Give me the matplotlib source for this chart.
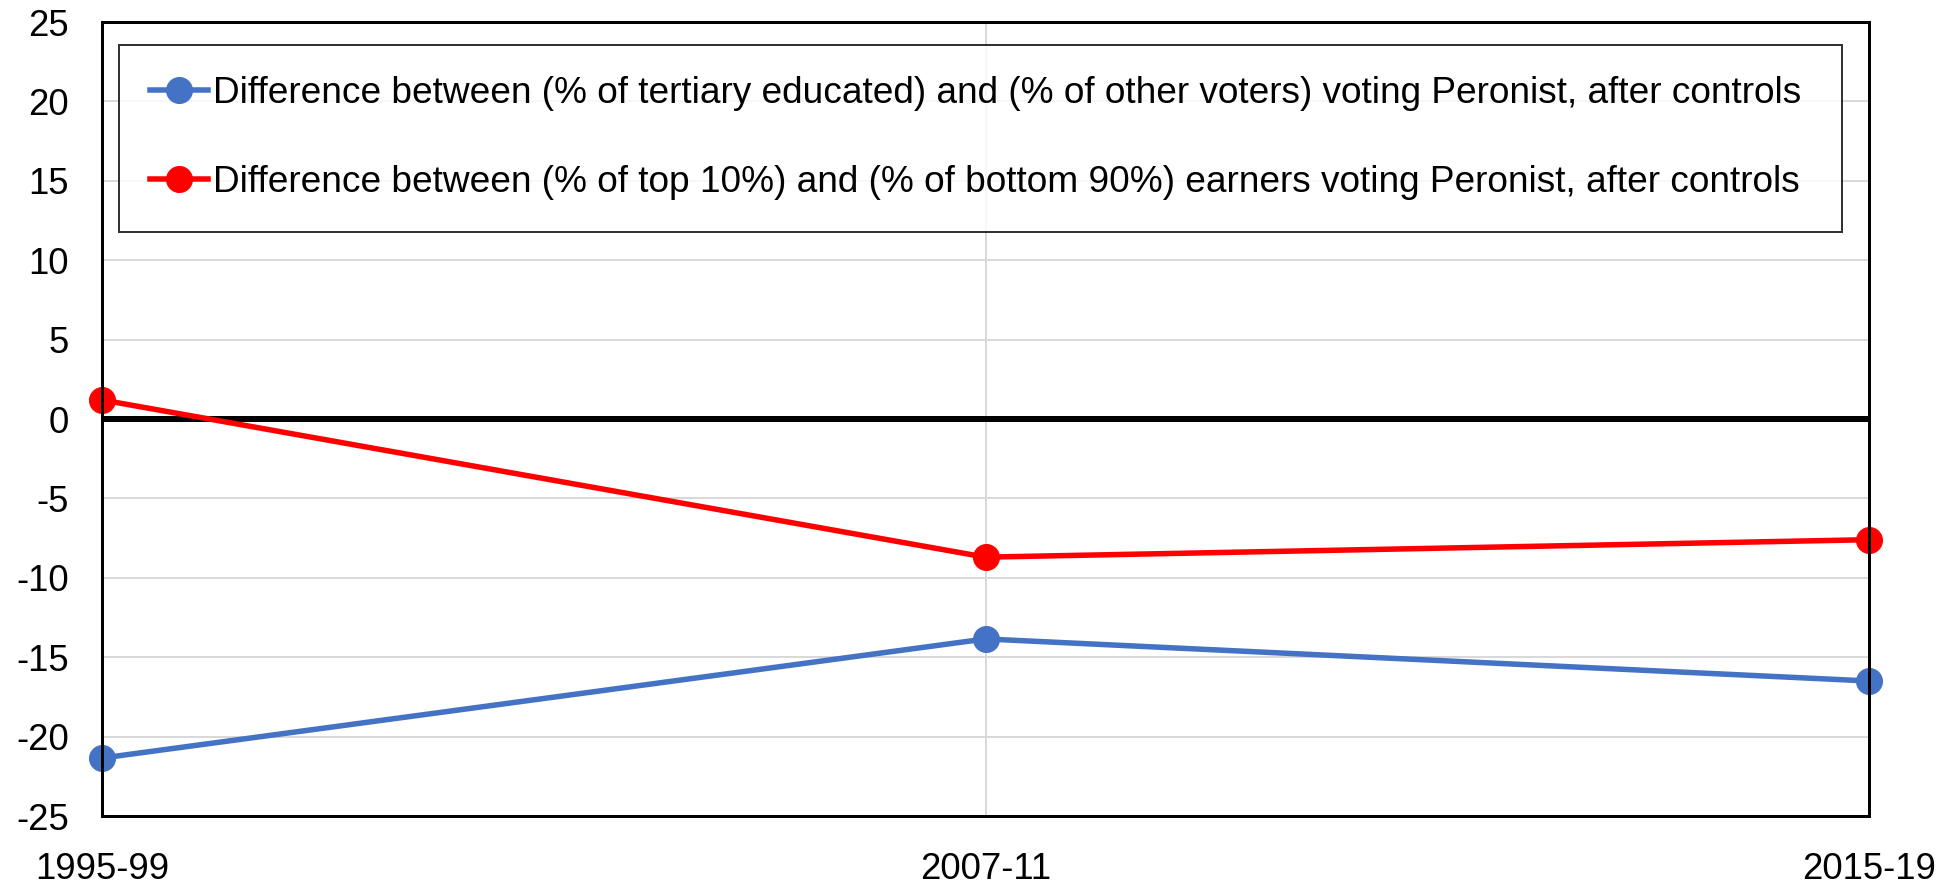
import matplotlib
matplotlib.use("Agg")
import matplotlib.pyplot as plt

periods = ["1995-99", "2007-11", "2015-19"]
tertiary = [-21.35, -13.85, -16.5]
top10 = [1.2, -8.7, -7.6]
label_tertiary = "Difference between (% of tertiary educated) and (% of other voters) voting Peronist, after controls"
label_top10 = "Difference between (% of top 10%) and (% of bottom 90%) earners voting Peronist, after controls"

plt.rcParams['font.family'] = ['Liberation Sans', 'DejaVu Sans']
plt.rcParams['axes.unicode_minus'] = False

W, H, DPI = 1959, 888, 72
fig = plt.figure(figsize=(W / DPI, H / DPI), dpi=DPI)
ax = fig.add_axes([102 / W, 1 - 816 / H, (1869 - 102) / W, (816 - 22) / H])

x = list(range(len(periods)))
ax.plot(x, tertiary, color="#4472C4", lw=5.5, marker="o", ms=26, label=label_tertiary, zorder=4, clip_on=False)
ax.plot(x, top10, color="#FF0000", lw=5.5, marker="o", ms=26, label=label_top10, zorder=4, clip_on=False)
ax.axhline(0, color="black", lw=6, zorder=3)

ax.set_xlim(0, 2)
ax.set_ylim(-25, 25)
ax.set_yticks(range(-25, 30, 5))
ax.set_xticks(x)
ax.set_xticklabels(periods)
ax.grid(True, color="#D9D9D9", lw=2, zorder=0)
ax.tick_params(axis='both', length=0, labelsize=36.5)
ax.tick_params(axis='y', pad=33)
ax.tick_params(axis='x', pad=36)
for s in ax.spines.values():
    s.set_linewidth(3)
    s.set_color("black")
    s.set_zorder(5)

leg = ax.legend(loc="upper left", bbox_to_anchor=(119 / W, 1 - 229 / H, (1842 - 119) / W, (229 - 45) / H),
                bbox_transform=fig.transFigure, mode="expand", fontsize=37, frameon=True, fancybox=False,
                edgecolor="black", handlelength=1.55, handletextpad=0.13, labelspacing=1.45,
                borderpad=0.85, borderaxespad=0)
leg.get_frame().set_linewidth(2)

fig.savefig("out.png", dpi=DPI)
